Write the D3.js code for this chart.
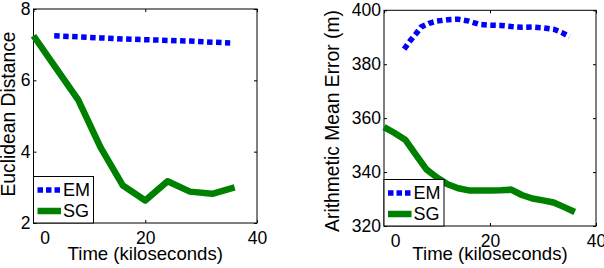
<!DOCTYPE html>
<html>
<head>
<meta charset="utf-8">
<script src="https://cdn.jsdelivr.net/npm/d3@7"></script>
<style>
  body { margin: 0; background: #fff; }
  svg { display: block; }
  text { font-family: "Liberation Sans", Arial, sans-serif; fill: #000; }
</style>
</head>
<body>
<div id="chart"></div>
<script>
var svgWidth = 604;
var svgHeight = 268;

// series names (legend)
var seriesNames = ["EM", "SG"];

// left panel: Euclidean distance
var emTimeA = [3.7, 8, 12, 16, 20, 24, 28, 32, 35.2];
var emDistA = [7.25, 7.22, 7.19, 7.16, 7.14, 7.12, 7.10, 7.07, 7.05];
var sgTimeA = [0, 4, 8, 12, 16, 20, 24, 28, 32, 36];
var sgDistA = [7.25, 6.35, 5.45, 4.12, 3.05, 2.63, 3.17, 2.88, 2.82, 3.0];
var xTicksA = [0, 20, 40];
var yTicksA = [2, 4, 6, 8];

// right panel: arithmetic mean error
var emTimeB = [3.8, 4.9, 6, 7, 8.5, 10, 12, 14, 16, 18, 20, 22, 24, 26, 28, 30, 32, 33.5, 35];
var emErrB = [385.6, 388.6, 391.2, 393.8, 395.2, 396, 396.5, 396.7, 396, 394.8, 394.5, 394.4, 394, 393.7, 393.8, 393.5, 393, 391.8, 390.2];
var sgTimeB = [0, 2, 4, 6, 8, 10, 12, 14, 16, 18, 20, 22, 24, 26, 28, 30, 32, 34, 36];
var sgErrB = [356.7, 354.5, 352, 346.5, 341, 338, 335.5, 334, 333.2, 333.2, 333.2, 333.3, 333.5, 331.5, 330.2, 329.5, 328.7, 327, 325.2];
var xTicksB = [0, 20, 40];
var yTicksB = [320, 340, 360, 380, 400];

var svg = d3.select("#chart")
  .append("svg")
  .attr("width", svgWidth)
  .attr("height", svgHeight);

function zip(xs, ys) {
  return xs.map(function (x, i) { return [x, ys[i]]; });
}

function drawPanel(p) {
  var x = d3.scaleLinear().domain([0, 40]).range([p.left, p.right]);
  var y = d3.scaleLinear().domain(p.yDomain).range([p.bottom, p.top]);
  var g = svg.append("g");

  // frame
  g.append("rect")
    .attr("x", p.left).attr("y", p.top)
    .attr("width", p.right - p.left).attr("height", p.bottom - p.top)
    .attr("fill", "none").attr("stroke", "#000").attr("stroke-width", 1);

  // inward ticks, MATLAB style
  var xb = g.append("g").attr("transform", `translate(0, ${p.bottom})`)
    .call(d3.axisBottom(x).tickValues(p.xTicks).tickFormat(d3.format("d"))
      .tickSize(-3).tickSizeOuter(0).tickPadding(9));
  g.append("g").attr("transform", `translate(0, ${p.top})`)
    .call(d3.axisTop(x).tickValues(p.xTicks).tickSize(-3).tickSizeOuter(0).tickFormat(""));
  var yl = g.append("g").attr("transform", `translate(${p.left}, 0)`)
    .call(d3.axisLeft(y).tickValues(p.yTicks).tickFormat(d3.format("d"))
      .tickSize(-3).tickSizeOuter(0).tickPadding(3));
  g.append("g").attr("transform", `translate(${p.right}, 0)`)
    .call(d3.axisRight(y).tickValues(p.yTicks).tickSize(-3).tickSizeOuter(0).tickFormat(""));

  g.selectAll(".domain").remove();
  g.selectAll(".tick line").attr("stroke", "#000");
  xb.selectAll("text").attr("font-size", "17.5px").attr("font-family", null).attr("fill", "#000");
  xb.selectAll("text").filter(function (d) { return d === 0; }).attr("dx", 11);
  yl.selectAll("text").attr("font-size", "17.5px").attr("font-family", null).attr("fill", "#000");

  var line = d3.line()
    .x(function (d) { return x(d[0]); })
    .y(function (d) { return y(d[1]); });

  g.append("path")
    .datum(zip(p.emX, p.emY))
    .attr("d", line)
    .attr("fill", "none").attr("stroke", "#0000ff")
    .attr("stroke-width", 5.5).attr("stroke-dasharray", "5.5,3.5");

  g.append("path")
    .datum(zip(p.sgX, p.sgY))
    .attr("d", line)
    .attr("fill", "none").attr("stroke", "#008000")
    .attr("stroke-width", 6.5).attr("stroke-linejoin", "round");

  // axis labels
  g.append("text")
    .attr("x", (p.left + p.right) / 2)
    .attr("y", 260)
    .attr("text-anchor", "middle")
    .attr("font-size", "18.6px")
    .text("Time (kiloseconds)");

  g.append("text")
    .attr("transform", `translate(${p.yLabelX}, ${p.yLabelY}) rotate(-90)`)
    .attr("text-anchor", "middle")
    .attr("font-size", "19.3px")
    .text(p.yLabel);

  // legend
  var lw = 60, lh = 46.5;
  var lx = p.left, ly = p.bottom - lh;
  var leg = g.append("g").attr("transform", `translate(${lx}, ${ly})`);
  leg.append("rect")
    .attr("width", lw).attr("height", lh)
    .attr("fill", "#fff").attr("stroke", "#000").attr("stroke-width", 1);
  var rows = leg.selectAll(".row")
    .data(seriesNames)
    .enter().append("g")
    .attr("transform", function (d, i) { return `translate(0, ${13.5 + i * 21})`; });
  rows.append("line")
    .attr("x1", 4).attr("x2", 27.5)
    .attr("stroke", function (d) { return d === "EM" ? "#0000ff" : "#008000"; })
    .attr("stroke-width", function (d) { return d === "EM" ? 5.5 : 6.5; })
    .attr("stroke-dasharray", function (d) { return d === "EM" ? "5.5,3" : null; });
  rows.append("text")
    .attr("x", 29.5).attr("y", 6)
    .attr("font-size", "18px")
    .text(function (d) { return d; });
}

drawPanel({
  left: 33.5, right: 257, top: 9, bottom: 223,
  yDomain: [2, 8], xTicks: xTicksA, yTicks: yTicksA,
  emX: emTimeA, emY: emDistA, sgX: sgTimeA, sgY: sgDistA,
  yLabel: "Euclidean Distance", yLabelX: 15, yLabelY: 114
});

drawPanel({
  left: 384, right: 596, top: 10.3, bottom: 226,
  yDomain: [320, 400], xTicks: xTicksB, yTicks: yTicksB,
  emX: emTimeB, emY: emErrB, sgX: sgTimeB, sgY: sgErrB,
  yLabel: "Arithmetic Mean Error (m)", yLabelX: 339, yLabelY: 121
});
</script>
</body>
</html>
